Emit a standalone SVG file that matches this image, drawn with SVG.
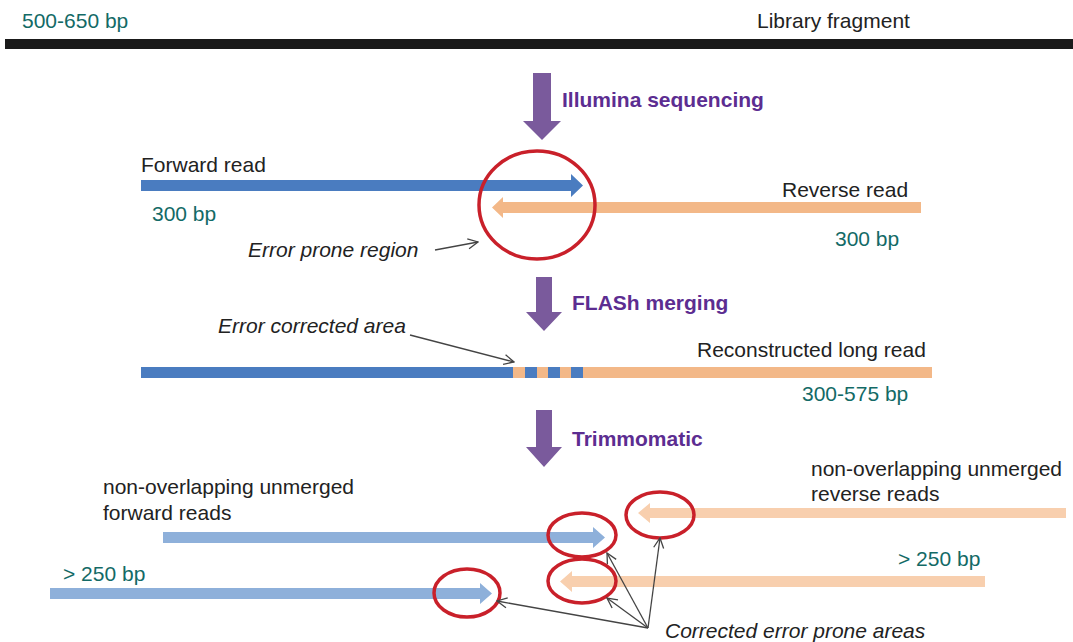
<svg xmlns="http://www.w3.org/2000/svg" width="1073" height="642" viewBox="0 0 1073 642">
<defs>
<style>
text{font-family:"Liberation Sans",Arial,sans-serif;font-size:21px;fill:#222}
.teal{fill:#136a66}
.it{font-style:italic}
.step{font-weight:bold;fill:#5c2d91}
.parr{fill:#7a5a9c}
.blue{fill:#4a7cc0}
.orange{fill:#f3b888}
.lblue{fill:#8eb0da}
.lorange{fill:#f8cfae}
.ring{fill:none;stroke:#c9202a;stroke-width:3.5}
.ptr{fill:none;stroke:#444;stroke-width:1.3}
</style>
<marker id="open" viewBox="0 0 12 12" refX="11" refY="6" markerWidth="12" markerHeight="12" markerUnits="userSpaceOnUse" orient="auto">
<path d="M1,1 L11,6 L1,11" fill="none" stroke="#444" stroke-width="1.3"/>
</marker>
</defs>
<rect width="1073" height="642" fill="#fff"/>

<g id="library">
<text class="teal" x="22" y="28">500-650 bp</text>
<text x="757" y="28">Library fragment</text>
<rect x="5" y="39" width="1068" height="10" fill="#1a1a1a"/>
</g>

<g id="step-illumina">
<path class="parr" d="M533,73 H551 V121 H561 L542,140 L523,121 H533 Z"/>
<text class="step" x="562" y="107">Illumina sequencing</text>
</g>

<g id="forward-read">
<text x="141" y="172">Forward read</text>
<path class="blue" d="M141,180 H571 V174 L583,185.5 L571,197 V191 H141 Z"/>
<text class="teal" x="152" y="221">300 bp</text>
</g>

<g id="reverse-read">
<text x="782" y="197">Reverse read</text>
<path class="orange" d="M921,202 H503 V197 L492,207.5 L503,218 V213 H921 Z"/>
<text class="teal" x="835" y="246">300 bp</text>
</g>

<g id="error-prone-region">
<ellipse class="ring" cx="537" cy="205" rx="58" ry="54"/>
<text class="it" x="248" y="257">Error prone region</text>
</g>

<g id="step-flash">
<path class="parr" d="M536,277 H552 V312 H562 L544,331 L526,312 H536 Z"/>
<text class="step" x="572" y="310">FLASh merging</text>
</g>

<g id="long-read">
<rect class="orange" x="513" y="367" width="419" height="11"/>
<rect class="blue" x="141" y="367" width="372" height="11"/>
<rect class="blue" x="525" y="367" width="12" height="11"/>
<rect class="blue" x="548" y="367" width="12" height="11"/>
<rect class="blue" x="571" y="367" width="12" height="11"/>
<text x="697" y="357">Reconstructed long read</text>
<text class="teal" x="802" y="401">300-575 bp</text>
<text class="it" x="218" y="333">Error corrected area</text>
</g>

<g id="step-trimmomatic">
<path class="parr" d="M536,410 H552 V447 H562 L544,467 L526,447 H536 Z"/>
<text class="step" x="572" y="446">Trimmomatic</text>
</g>

<g id="unmerged-forward">
<text x="103" y="494">non-overlapping unmerged</text>
<text x="103" y="520">forward reads</text>
<path class="lblue" d="M163,532 H593 V527 L605,537.5 L593,548 V543 H163 Z"/>
<text class="teal" x="63" y="581">&gt; 250 bp</text>
<path class="lblue" d="M50,588 H480 V583 L492,593.5 L480,604 V599 H50 Z"/>
</g>

<g id="unmerged-reverse">
<text x="811" y="476">non-overlapping unmerged</text>
<text x="811" y="501">reverse reads</text>
<path class="lorange" d="M1066,508 H650 V503 L638,513 L650,523 V518 H1066 Z"/>
<text class="teal" x="898" y="566">&gt; 250 bp</text>
<path class="lorange" d="M985,576 H572 V571 L560,581.5 L572,592 V587 H985 Z"/>
</g>

<g id="corrected-areas">
<ellipse class="ring" cx="582" cy="535" rx="34" ry="22"/>
<ellipse class="ring" cx="660" cy="515" rx="34" ry="23"/>
<ellipse class="ring" cx="582" cy="581" rx="34" ry="22"/>
<ellipse class="ring" cx="467" cy="593" rx="33" ry="24"/>
<text class="it" x="665" y="638">Corrected error prone areas</text>
</g>

<g id="connectors">
<path class="ptr" d="M435,250 L478,242" marker-end="url(#open)"/>
<path class="ptr" d="M410,335 L514,362" marker-end="url(#open)"/>
<path class="ptr" d="M648,628 L497,601" marker-end="url(#open)"/>
<path class="ptr" d="M648,628 L607,553" marker-end="url(#open)"/>
<path class="ptr" d="M648,628 L607,598" marker-end="url(#open)"/>
<path class="ptr" d="M648,628 L660,538" marker-end="url(#open)"/>
</g>
</svg>
